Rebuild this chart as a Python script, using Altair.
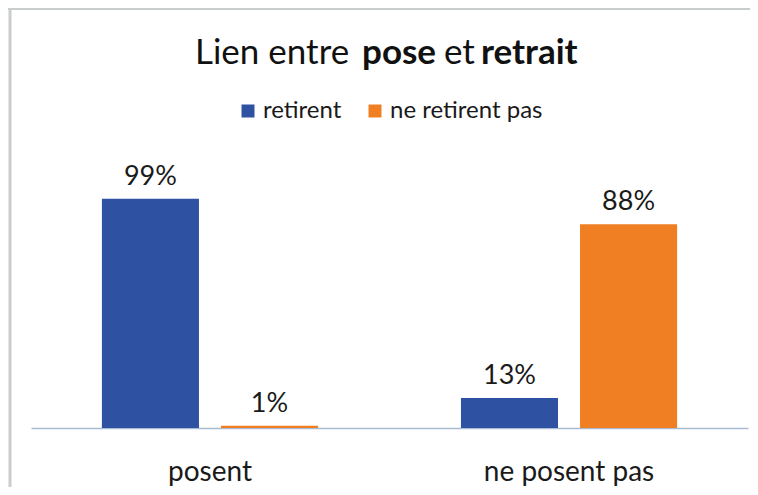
import altair as alt
import pandas as pd

categories = ["posent", "ne posent pas"]
series = ["retirent", "ne retirent pas"]
retirent = [99, 13]
ne_retirent = [1, 88]
title_parts = ["Lien entre", "pose", "et", "retrait"]
title_bold = [False, True, False, True]

rows = []
for i, c in enumerate(categories):
    rows.append({"cat": c, "serie": series[0], "val": retirent[i], "lab": f"{retirent[i]}%"})
    rows.append({"cat": c, "serie": series[1], "val": ne_retirent[i], "lab": f"{ne_retirent[i]}%"})
df = pd.DataFrame(rows)

FONT = "Lato"
BLUE = "#2F51A1"
ORANGE = "#F07E22"

x = alt.X("cat:N", sort=categories, title=None,
          scale=alt.Scale(paddingInner=0.398, paddingOuter=0.1975),
          axis=alt.Axis(labelAngle=0, ticks=False, domainColor="#A9BCD3", domainWidth=1.5,
                        labelFont=FONT, labelFontSize=28, labelColor="#1a1a1a",
                        labelBaseline="alphabetic", labelPadding=52))
xo = alt.XOffset("serie:N", sort=series,
                 scale=alt.Scale(paddingInner=0.185, paddingOuter=0))
y = alt.Y("val:Q", scale=alt.Scale(domain=[0, 120], nice=False), axis=None)

bars = alt.Chart(df).mark_bar().encode(
    x=x, xOffset=xo, y=y,
    color=alt.Color("serie:N", sort=series,
                    scale=alt.Scale(domain=series, range=[BLUE, ORANGE]),
                    legend=alt.Legend(title=None, orient="none", direction="horizontal",
                                      legendX=205, legendY=-51, symbolType="square",
                                      symbolSize=169, symbolStrokeWidth=0,
                                      labelFont=FONT, labelFontSize=24, labelColor="#1a1a1a",
                                      labelOffset=3, columnPadding=21)),
)

labels = alt.Chart(df).mark_text(font=FONT, fontSize=27, color="#1a1a1a",
                                 baseline="alphabetic", dy=-14).encode(
    x=x, xOffset=xo, y=y, text="lab:N")

title_x = [164, 331, 413, 450]
title_layers = []
for t, b, px in zip(title_parts, title_bold, title_x):
    title_layers.append(
        alt.Chart(pd.DataFrame({"t": [t]})).mark_text(
            font=FONT, fontSize=35, fontWeight="bold" if b else "normal",
            color="#111111", align="left", baseline="alphabetic"
        ).encode(x=alt.value(px), y=alt.value(-86), text="t:N")
    )

border_top = alt.Chart(pd.DataFrame({"a": [0]})).mark_rule(color="#C9CDCD", strokeWidth=2).encode(
    x=alt.value(-23), x2=alt.value(730), y=alt.value(-141))
border_left = alt.Chart(pd.DataFrame({"a": [0]})).mark_rule(color="#C9CDCD", strokeWidth=3).encode(
    x=alt.value(-21), y=alt.value(-142), y2=alt.value(340))

chart = alt.layer(border_top, border_left, bars, labels, *title_layers).properties(
    width=717, height=278,
    autosize=alt.AutoSizeParams(type="none"),
    padding={"left": 23, "top": 142, "right": 2, "bottom": 59},
    background="white",
).configure_view(strokeWidth=0, stroke="transparent")

chart.save("out.html", embed_options={"renderer": "svg", "actions": False})
